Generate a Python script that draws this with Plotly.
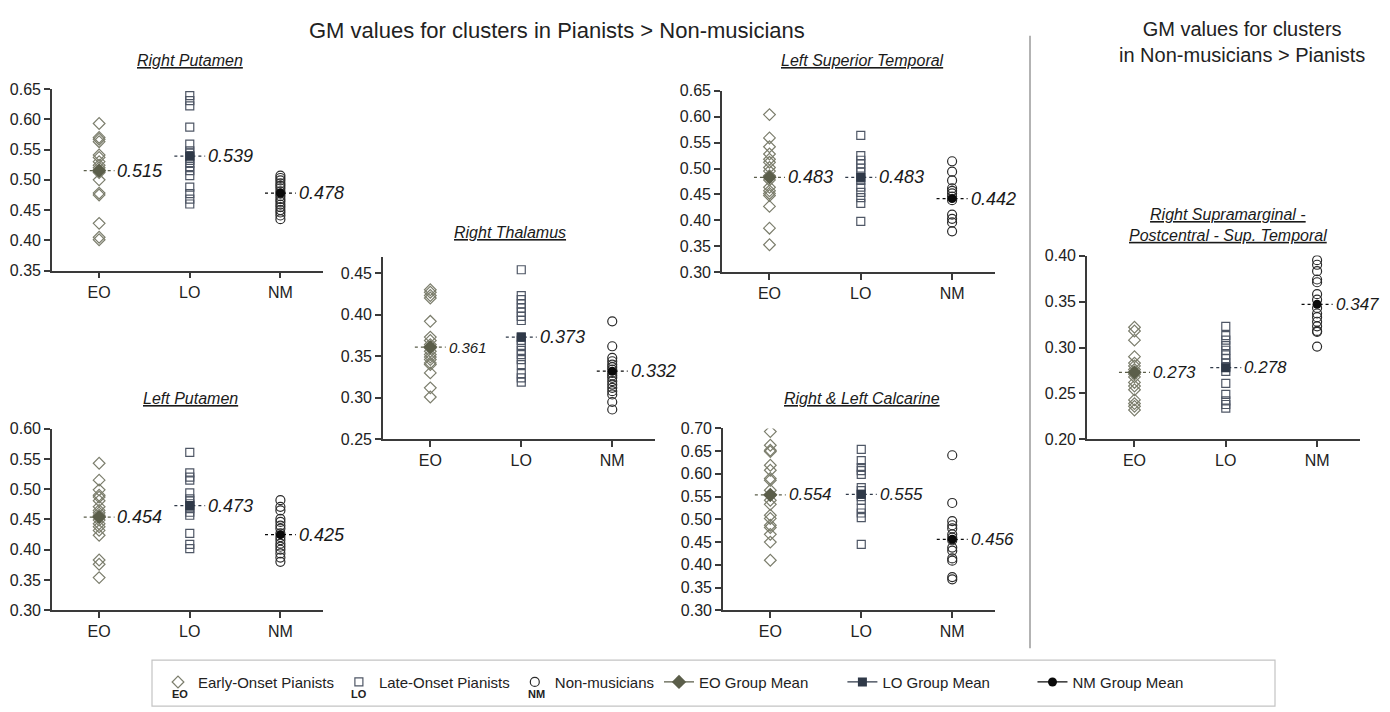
import plotly.graph_objects as go

W, H = 1390, 712
FONT = "Arial, 'Liberation Sans', Helvetica, sans-serif"
NB = "\u00a0"

categories = ["EO", "LO", "NM"]
legend_names = ["Early-Onset Pianists", "Late-Onset Pianists", "Non-musicians"]
mean_legend_names = ["EO Group Mean", "LO Group Mean", "NM Group Mean"]

# ---- Right Putamen ----
rp_eo = [0.593, 0.570, 0.567, 0.563, 0.541, 0.537, 0.530, 0.524, 0.520, 0.516, 0.512, 0.500, 0.478, 0.475, 0.428, 0.405, 0.401]
rp_lo = [0.639, 0.631, 0.622, 0.587, 0.559, 0.548, 0.544, 0.540, 0.536, 0.532, 0.527, 0.522, 0.515, 0.507, 0.488, 0.477, 0.468, 0.460]
rp_nm = [0.507, 0.503, 0.499, 0.494, 0.490, 0.486, 0.481, 0.477, 0.473, 0.468, 0.464, 0.459, 0.455, 0.450, 0.446, 0.441, 0.435]
rp_means = [0.515, 0.539, 0.478]

# ---- Left Putamen ----
lp_eo = [0.543, 0.515, 0.499, 0.490, 0.487, 0.481, 0.471, 0.465, 0.461, 0.457, 0.454, 0.449, 0.443, 0.438, 0.432, 0.424, 0.383, 0.376, 0.354]
lp_lo = [0.561, 0.527, 0.520, 0.515, 0.494, 0.484, 0.481, 0.476, 0.472, 0.468, 0.462, 0.457, 0.427, 0.409, 0.402]
lp_nm = [0.482, 0.471, 0.465, 0.451, 0.446, 0.440, 0.435, 0.427, 0.421, 0.416, 0.410, 0.405, 0.400, 0.394, 0.387, 0.380]
lp_means = [0.454, 0.473, 0.425]

# ---- Right Thalamus ----
rt_eo = [0.430, 0.427, 0.423, 0.420, 0.392, 0.373, 0.369, 0.364, 0.360, 0.356, 0.352, 0.349, 0.346, 0.342, 0.340, 0.330, 0.312, 0.301]
rt_lo = [0.454, 0.423, 0.418, 0.413, 0.408, 0.403, 0.398, 0.393, 0.373, 0.369, 0.363, 0.357, 0.352, 0.346, 0.340, 0.329, 0.324, 0.319]
rt_nm = [0.392, 0.362, 0.348, 0.344, 0.340, 0.337, 0.334, 0.330, 0.327, 0.324, 0.320, 0.316, 0.312, 0.308, 0.304, 0.295, 0.286]
rt_means = [0.361, 0.373, 0.332]

# ---- Left Superior Temporal ----
lst_eo = [0.604, 0.559, 0.542, 0.528, 0.518, 0.512, 0.502, 0.495, 0.486, 0.478, 0.464, 0.457, 0.452, 0.448, 0.427, 0.385, 0.353]
lst_lo = [0.564, 0.525, 0.516, 0.509, 0.501, 0.493, 0.483, 0.477, 0.464, 0.454, 0.444, 0.433, 0.398]
lst_nm = [0.514, 0.494, 0.477, 0.462, 0.457, 0.452, 0.446, 0.439, 0.411, 0.403, 0.396, 0.379]
lst_means = [0.483, 0.483, 0.442]

# ---- Right & Left Calcarine ----
cal_eo = [0.693, 0.663, 0.652, 0.649, 0.619, 0.608, 0.590, 0.586, 0.564, 0.553, 0.542, 0.533, 0.509, 0.502, 0.487, 0.482, 0.467, 0.450, 0.410]
cal_lo = [0.654, 0.629, 0.614, 0.607, 0.599, 0.570, 0.563, 0.555, 0.550, 0.542, 0.524, 0.514, 0.504, 0.445]
cal_nm = [0.641, 0.536, 0.496, 0.487, 0.480, 0.467, 0.460, 0.454, 0.438, 0.431, 0.414, 0.409, 0.373, 0.368]
cal_means = [0.554, 0.555, 0.456]

# ---- Right Supramarginal - Postcentral - Sup. Temporal ----
sm_eo = [0.322, 0.318, 0.308, 0.290, 0.283, 0.280, 0.276, 0.271, 0.268, 0.262, 0.258, 0.254, 0.243, 0.239, 0.236, 0.232]
sm_lo = [0.323, 0.313, 0.308, 0.302, 0.297, 0.292, 0.288, 0.283, 0.279, 0.274, 0.261, 0.249, 0.242, 0.238, 0.234]
sm_nm = [0.395, 0.390, 0.383, 0.374, 0.371, 0.358, 0.352, 0.343, 0.337, 0.333, 0.328, 0.323, 0.318, 0.317, 0.301]
sm_means = [0.273, 0.278, 0.347]


def px(v):
    # target screen x (px) -> paper fraction
    return (v - 8) / W


def py(v):
    # target screen y (px) -> paper fraction
    s = (v - 15.2) / 0.977
    return 1 - s / H


# panel layout (pixel boxes) and styles
panels = [
    dict(title="<i><u>Right Putamen</u></i>", groups=[rp_eo, rp_lo, rp_nm], means=rp_means,
         xb=(52, 323), yb=(270, 88.3), rng=(0.35, 0.65), tpos=(190, 60), lsize=[18, 18, 18]),
    dict(title="<i><u>Left Putamen</u></i>", groups=[lp_eo, lp_lo, lp_nm], means=lp_means,
         xb=(52, 323), yb=(610, 428.3), rng=(0.30, 0.60), tpos=(190, 398), lsize=[18, 18, 18]),
    dict(title="<i><u>Right Thalamus</u></i>", groups=[rt_eo, rt_lo, rt_nm], means=rt_means,
         xb=(383, 655), yb=(439, 256.7), rng=(0.25, 0.469), tpos=(510, 232), lsize=[15, 18, 18]),
    dict(title="<i><u>Left Superior Temporal</u></i>", groups=[lst_eo, lst_lo, lst_nm], means=lst_means,
         xb=(722, 995), yb=(271.7, 90), rng=(0.30, 0.65), tpos=(862, 60), lsize=[18, 18, 18]),
    dict(title="<i><u>Right & Left Calcarine</u></i>", groups=[cal_eo, cal_lo, cal_nm], means=cal_means,
         xb=(723, 995), yb=(610, 428), rng=(0.30, 0.70), tpos=(862, 398), lsize=[17, 17, 17]),
    dict(title="<i><u>Right Supramarginal -</u></i><br><i><u>Postcentral - Sup. Temporal</u></i>",
         groups=[sm_eo, sm_lo, sm_nm], means=sm_means,
         xb=(1087, 1360), yb=(439, 255), rng=(0.20, 0.40), tpos=(1228, 224), lsize=[17, 17, 17]),
]

raw_sym = ["diamond-open", "square-open", "circle-open"]
raw_col = ["#7c7e6d", "#4f5766", "#2b2b2b"]
raw_size = [9, 8, 9]
mean_sym = ["diamond", "square", "circle"]
mean_col = ["#5b5e4a", "#2f3948", "#0a0a0a"]
mean_size = [11, 9, 9]
mean_pad = [7, 9, 0]  # extra spacing after legend labels
HALF = 0.17

fig = go.Figure()
annotations = []
layout_axes = {}

for i, p in enumerate(panels):
    k = "" if i == 0 else str(i + 1)
    xa, ya = "x" + k, "y" + k
    first = i == 0
    # raw points
    for g in range(3):
        vals = p["groups"][g]
        fig.add_trace(go.Scatter(
            x=[g] * len(vals), y=vals, xaxis=xa, yaxis=ya, mode="markers",
            name=legend_names[g], legendgroup="raw" + str(g), showlegend=first,
            marker=dict(symbol=raw_sym[g], size=raw_size[g], color=raw_col[g],
                        line=dict(width=1.2, color=raw_col[g])),
        ))
    # mean dotted lines
    for g in range(3):
        m = p["means"][g]
        fig.add_trace(go.Scatter(
            x=[g - HALF, g + HALF], y=[m, m], xaxis=xa, yaxis=ya, mode="lines",
            showlegend=False, hoverinfo="skip",
            line=dict(color=mean_col[g], width=1.3, dash="dot"),
        ))
    # mean markers
    for g in range(3):
        m = p["means"][g]
        fig.add_trace(go.Scatter(
            x=[g], y=[m], xaxis=xa, yaxis=ya, mode="lines+markers",
            name=mean_legend_names[g] + NB * mean_pad[g], legendgroup="mean" + str(g),
            showlegend=first,
            line=dict(color=mean_col[g], width=1.3),
            marker=dict(symbol=mean_sym[g], size=mean_size[g], color=mean_col[g]),
        ))
        annotations.append(dict(
            x=g + HALF + 0.01, y=m, xref=xa, yref=ya, xanchor="left", yanchor="middle",
            text="<i>%.3f</i>" % m, showarrow=False,
            font=dict(family=FONT, size=p["lsize"][g], color="#1a1a1a"),
        ))
    # axes
    x0, x1 = p["xb"]
    yb0, yb1 = p["yb"]
    axis_common = dict(showgrid=False, zeroline=False, showline=True, linecolor="#3a3a3a",
                       linewidth=1.6, ticks="outside", ticklen=6, tickwidth=1.5,
                       tickcolor="#3a3a3a", tickfont=dict(family=FONT, size=16, color="#222"))
    layout_axes["xaxis" + k] = dict(
        domain=[px(x0), px(x1)], anchor=ya, range=[-0.52, 2.47],
        tickmode="array", tickvals=[0, 1, 2], ticktext=categories, **axis_common)
    layout_axes["yaxis" + k] = dict(
        domain=[py(yb0), py(yb1)], anchor=xa, range=list(p["rng"]),
        tickmode="linear", tick0=0, dtick=0.05, tickformat=".2f", **axis_common)
    annotations.append(dict(
        x=px(p["tpos"][0]), y=py(p["tpos"][1]), xref="paper", yref="paper",
        xanchor="center", yanchor="middle", text=p["title"], showarrow=False,
        font=dict(family=FONT, size=16, color="#1a1a1a"),
    ))

# headings
annotations.append(dict(
    x=px(557), y=1, xref="paper", yref="paper", xanchor="center", yanchor="top",
    text="GM values for clusters in Pianists > Non-musicians", showarrow=False,
    font=dict(family=FONT, size=22, color="#222")))
annotations.append(dict(
    x=px(1242), y=1, xref="paper", yref="paper", xanchor="center", yanchor="top",
    text="GM values for clusters<br>in Non-musicians > Pianists", showarrow=False,
    font=dict(family=FONT, size=20, color="#222")))

# small group tags under legend symbols
for tag, xp in zip(categories, [180, 359, 536]):
    annotations.append(dict(
        x=px(xp), y=py(694), xref="paper", yref="paper", xanchor="center", yanchor="middle",
        text="<b>%s</b>" % tag, showarrow=False, font=dict(family=FONT, size=11, color="#222")))

shapes = [
    dict(type="line", xref="paper", yref="paper", x0=px(1030), x1=px(1030), y0=py(35), y1=py(648),
         line=dict(color="#9a9a9a", width=1.5)),
    dict(type="rect", xref="paper", yref="paper", x0=px(152), x1=px(1275), y0=py(706), y1=py(660),
         line=dict(color="#c4c4c4", width=1.2)),
]

fig.update_layout(
    width=W, height=H, margin=dict(l=0, r=0, t=0, b=0),
    paper_bgcolor="white", plot_bgcolor="white",
    font=dict(family=FONT, color="#222"),
    showlegend=True,
    legend=dict(orientation="h", x=px(158), y=py(682), xanchor="left", yanchor="middle",
                bgcolor="rgba(0,0,0,0)", borderwidth=0, traceorder="normal",
                font=dict(family=FONT, size=15, color="#222")),
    annotations=annotations, shapes=shapes,
    **layout_axes,
)

fig.write_html("out.html")
